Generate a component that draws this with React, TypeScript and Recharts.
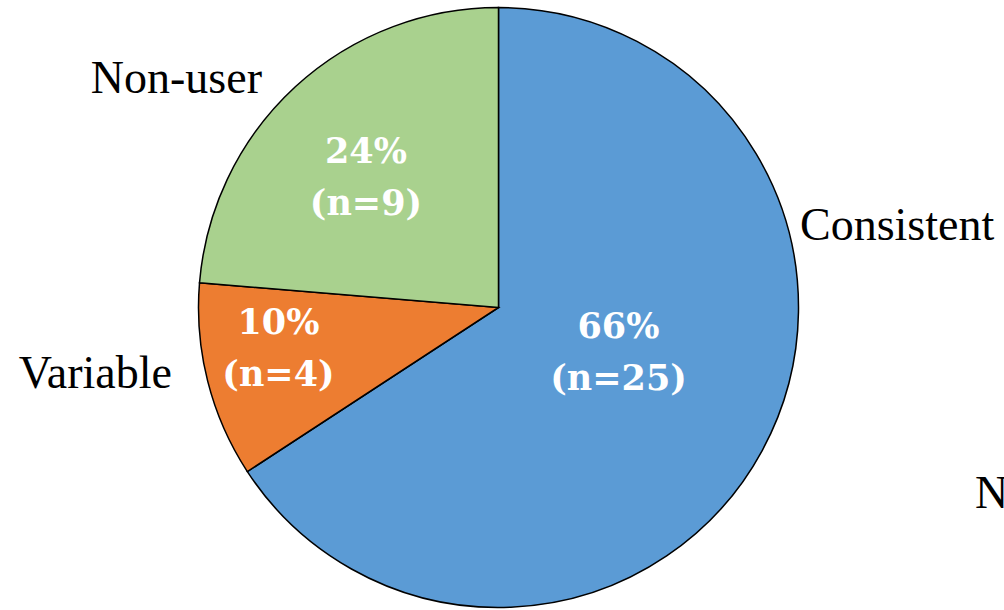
import { PieChart, Pie, Cell } from "recharts";

// slice categories, counts (n) and the percentages printed on the chart
const groups = ["Consistent", "Variable", "Non-user"];
const counts = [25, 4, 9];
const percents = [66, 10, 24];
const colors = ["#5B9BD5", "#ED7D31", "#A9D18E"];

const sliceData = groups.map((name, i) => ({
  name,
  n: counts[i],
  pct: percents[i],
}));

// hand placed label spots, relative to pie centre (like the original Excel chart)
const labelLayout: Record<
  string,
  { ix: number; iy: number; ox: number; oy: number; anchor: "start" | "end" }
> = {
  Consistent: { ix: 120, iy: 30.5, ox: 301.5, oy: -67.5, anchor: "start" },
  Variable: { ix: -220, iy: 26, ox: -326.5, oy: 80.5, anchor: "end" },
  "Non-user": { ix: -132.5, iy: -144.5, ox: -236.5, oy: -214.5, anchor: "end" },
};

const outerFont = "'Liberation Serif', 'Times New Roman', serif";
const innerFont = "'DejaVu Serif', serif";

function renderLabel(props: any) {
  const { cx, cy, payload } = props;
  const name = payload?.name ?? props.name;
  const pct = payload?.pct ?? props.pct;
  const n = payload?.n ?? props.n;
  const l = labelLayout[name];
  if (!l) return null;
  return (
    <g>
      <text
        x={cx + l.ix}
        y={cy + l.iy}
        textAnchor="middle"
        fill="#ffffff"
        fontFamily={innerFont}
        fontWeight="bold"
        fontSize={35}
      >
        {pct}%
      </text>
      <text
        x={cx + l.ix}
        y={cy + l.iy + 52}
        textAnchor="middle"
        fill="#ffffff"
        fontFamily={innerFont}
        fontWeight="bold"
        fontSize={35}
      >
        (n={n})
      </text>
      <text
        x={cx + l.ox}
        y={cy + l.oy}
        textAnchor={l.anchor}
        fill="#000000"
        fontFamily={outerFont}
        fontSize={46}
      >
        {name}
      </text>
    </g>
  );
}

export default function App() {
  return (
    <div
      style={{
        position: "absolute",
        left: 0,
        top: 0,
        width: 1004,
        height: 610,
        background: "#ffffff",
        overflow: "hidden",
      }}
    >
      <PieChart width={1004} height={610} margin={{ top: 0, right: 0, bottom: 0, left: 0 }}>
        <Pie
          data={sliceData}
          dataKey="n"
          nameKey="name"
          cx={498.5}
          cy={307.5}
          outerRadius={300}
          startAngle={90}
          endAngle={-270}
          stroke="#000000"
          strokeWidth={1.5}
          label={renderLabel}
          labelLine={false}
          isAnimationActive={false}
        >
          {sliceData.map((d, i) => (
            <Cell key={d.name} fill={colors[i]} />
          ))}
        </Pie>
        {/* stray letter cut off at the right edge of the source image */}
        <text x={975} y={508} fontFamily={outerFont} fontSize={46} fill="#000000">
          N
        </text>
      </PieChart>
    </div>
  );
}
